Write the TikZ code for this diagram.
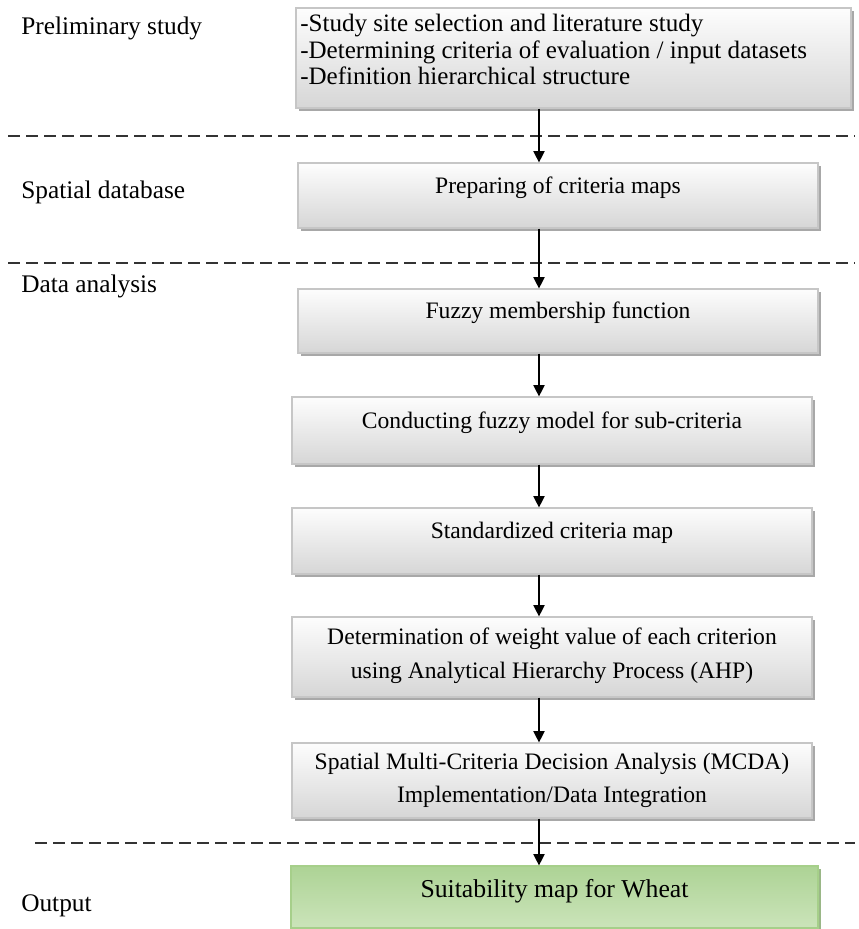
\documentclass[tikz,border=0pt]{standalone}
\usepackage{fontspec}
\setmainfont{Liberation Serif}
\usetikzlibrary{shadows,arrows.meta,fit}
\definecolor{boxline}{HTML}{C6C6C6}
\definecolor{boxtop}{HTML}{FDFDFD}
\definecolor{boxbot}{HTML}{D6D6D6}
\definecolor{shadowgray}{HTML}{A8A8A8}
\definecolor{greentop}{HTML}{ADD395}
\definecolor{greenmid}{HTML}{E5F0DE}
\definecolor{greenbot}{HTML}{CBE4BA}
\definecolor{greenline}{HTML}{A6CF8A}
\begin{document}
\begin{tikzpicture}[x=0.75pt,y=-0.75pt,
  graybox/.style={draw=boxline, line width=0.9pt, top color=boxtop, bottom color=boxbot,
    inner sep=0pt,
    drop shadow={shadow xshift=2pt, shadow yshift=-2.6pt, fill=shadowgray, opacity=1}},
  greenbox/.style={draw=greenline, line width=0.9pt, top color=greentop, middle color=greenmid,
    bottom color=greenbot, inner sep=0pt,
    drop shadow={shadow xshift=2pt, shadow yshift=-2.6pt, fill=greenline!70!gray, opacity=1}},
  boxtext/.style={font=\fontsize{17.7pt}{25pt}\selectfont, align=center, inner sep=0pt},
  listtext/.style={font=\fontsize{18.8pt}{20pt}\selectfont, align=left, inner sep=0pt},
  outtext/.style={font=\fontsize{19.3pt}{24pt}\selectfont, inner sep=0pt},
  stagelabel/.style={font=\fontsize{19pt}{23pt}\selectfont, anchor=west, inner sep=0pt},
  sepline/.style={line width=0.8pt, black!80, dash pattern=on 9pt off 4.5pt},
  arr/.style={line width=0.9pt, -{Triangle[length=8.5pt,width=8.5pt]}}
]
\useasboundingbox (0,0) rectangle (859,929);

% boxes
\node[graybox, fit={(296,8) (851,108)}] (b1) {};
\node[graybox, fit={(298,163) (818,228)}] (b2) {};
\node[graybox, fit={(298,289) (818,353)}] (b3) {};
\node[graybox, fit={(292,397) (812,464)}] (b4) {};
\node[graybox, fit={(292,508) (812,574)}] (b5) {};
\node[graybox, fit={(292,617) (812,697)}] (b6) {};
\node[graybox, fit={(292,743) (812,818)}] (b7) {};
\node[greenbox, fit={(291,866) (818,928)}] (b8) {};

% box texts
\node[listtext, anchor=north west] (t1) at (300,14)
  {-Study site selection and literature study\\-Determining criteria of evaluation / input datasets\\-Definition hierarchical structure};
\node[boxtext] (t2) at ([yshift=6pt]b2.center) {Preparing of criteria maps};
\node[boxtext] (t3) at ([yshift=6pt]b3.center) {Fuzzy membership function};
\node[boxtext] (t4) at ([yshift=6pt]b4.center) {Conducting fuzzy model for sub-criteria};
\node[boxtext] (t5) at ([yshift=6pt]b5.center) {Standardized criteria map};
\node[boxtext] (t6) at ([yshift=1pt]b6.center) {Determination of weight value of each criterion\\using Analytical Hierarchy Process (AHP)};
\node[boxtext] (t7) at (b7.center) {Spatial Multi-Criteria Decision Analysis (MCDA)\\Implementation/Data Integration};
\node[outtext] (t8) at ([yshift=4pt]b8.center) {Suitability map for Wheat};

% stage labels
\node[stagelabel] (l1) at (21,28) {Preliminary study};
\node[stagelabel] (l2) at (21,192) {Spatial database};
\node[stagelabel] (l3) at (21,286) {Data analysis};
\node[stagelabel] (l4) at (21,906) {Output};

% separator lines
\coordinate (s1a) at (8,136);  \coordinate (s1b) at (855,136);
\coordinate (s2a) at (8,263);  \coordinate (s2b) at (855,263);
\coordinate (s3a) at (35,843); \coordinate (s3b) at (855,843);
\draw[sepline] (s1a) -- (s1b);
\draw[sepline] (s2a) -- (s2b);
\draw[sepline] (s3a) -- (s3b);

% arrows
\coordinate (ax) at (539,0);
\draw[arr] (b1.south -| ax) -- (b2.north -| ax);
\draw[arr] (b2.south -| ax) -- (b3.north -| ax);
\draw[arr] (b3.south -| ax) -- (b4.north -| ax);
\draw[arr] (b4.south -| ax) -- (b5.north -| ax);
\draw[arr] (b5.south -| ax) -- (b6.north -| ax);
\draw[arr] (b6.south -| ax) -- (b7.north -| ax);
\draw[arr] (b7.south -| ax) -- (b8.north -| ax);
\end{tikzpicture}
\end{document}
